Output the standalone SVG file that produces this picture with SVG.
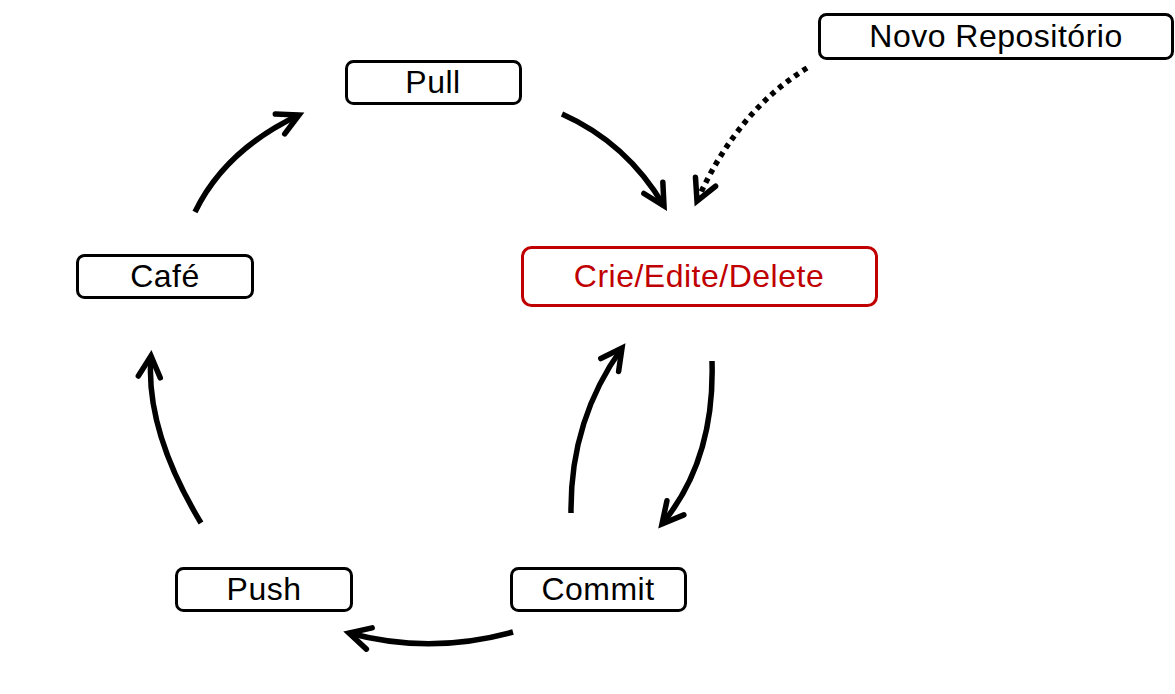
<svg xmlns="http://www.w3.org/2000/svg" width="1175" height="694" viewBox="0 0 1175 694">
<style>
.box{fill:#fff;stroke:#000;stroke-width:3}
.red{stroke:#c00000}
.lbl{font-family:"Liberation Sans",Arial,sans-serif;font-size:32px;letter-spacing:0.5px;fill:#000;text-anchor:middle}
.lbl.r{fill:#c00000}
.arr{fill:none;stroke:#000;stroke-width:5.5;stroke-linecap:butt;marker-end:url(#ah)}
.dot{stroke-dasharray:5 5}
</style>
<defs>
<marker id="ah" markerUnits="userSpaceOnUse" viewBox="-30 -20 40 40" refX="0" refY="0" markerWidth="40" markerHeight="40" orient="auto">
<path d="M -21 -11 L 0 0 L -21 11" fill="none" stroke="#000" stroke-width="5.5" stroke-linecap="round" stroke-linejoin="miter"/>
</marker>
</defs>
<rect width="1175" height="694" fill="#fff"/>
<g id="connectors">
<path class="arr" d="M 195 212 Q 225 150 299 115"/>
<path class="arr" d="M 562 114 Q 627 143 664 206"/>
<path class="arr dot" d="M 807 68 Q 737 111 697 201"/>
<path class="arr" d="M 712 361 Q 715 460 662 524"/>
<path class="arr" d="M 571 513 Q 570 420 622 348"/>
<path class="arr" d="M 513 632 Q 430 655 349 633"/>
<path class="arr" d="M 201 523 Q 145 430 151 356"/>
</g>
<g id="novo">
<rect class="box" x="819.5" y="14.5" width="353" height="44" rx="7"/>
<text class="lbl" x="996" y="47">Novo Repositório</text>
</g>
<g id="pull">
<rect class="box" x="346.5" y="61.5" width="174" height="42" rx="7"/>
<text class="lbl" x="433" y="93">Pull</text>
</g>
<g id="cafe">
<rect class="box" x="77.5" y="255.5" width="175" height="42" rx="7"/>
<text class="lbl" x="165" y="287">Café</text>
</g>
<g id="crie">
<rect class="box red" x="522.5" y="247.5" width="354" height="58" rx="9"/>
<text class="lbl r" x="699" y="287">Crie/Edite/Delete</text>
</g>
<g id="push">
<rect class="box" x="176.5" y="568.5" width="175" height="42" rx="7"/>
<text class="lbl" x="264" y="600">Push</text>
</g>
<g id="commit">
<rect class="box" x="511.5" y="568.5" width="174" height="42" rx="7"/>
<text class="lbl" x="598" y="600">Commit</text>
</g>
</svg>
